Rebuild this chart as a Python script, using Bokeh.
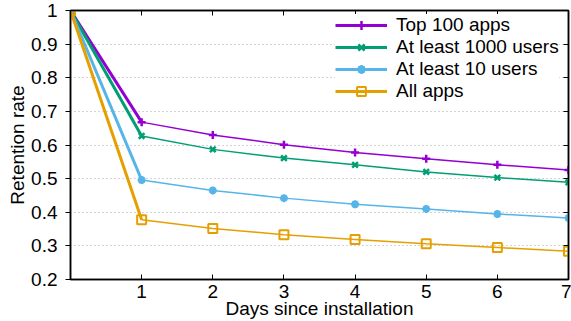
from bokeh.plotting import figure
from bokeh.models import Range1d, FixedTicker, LinearAxis, CustomJSTickFormatter, Legend, LegendItem
from bokeh.embed import file_html
from bokeh.resources import INLINE

days = [0, 1, 2, 3, 4, 5, 6, 7]
top100 = [1.0, 0.668, 0.630, 0.601, 0.578, 0.559, 0.541, 0.526]
least1000 = [1.0, 0.627, 0.587, 0.561, 0.541, 0.520, 0.503, 0.489]
least10 = [1.0, 0.496, 0.465, 0.442, 0.424, 0.410, 0.395, 0.383]
allapps = [1.0, 0.378, 0.352, 0.333, 0.319, 0.306, 0.295, 0.284]

series_names = ["Top 100 apps", "At least 1000 users", "At least 10 users", "All apps"]
series_values = [top100, least1000, least10, allapps]
colors = ["#9400D3", "#009E73", "#56B4E9", "#E69F00"]
markers = ["cross", "x", "asterisk", "square"]

x_ticks = [1, 2, 3, 4, 5, 6, 7]
y_ticks = [0.2, 0.3, 0.4, 0.5, 0.6, 0.7, 0.8, 0.9, 1.0]

FONT = "Liberation Sans"
FS = "19px"

p = figure(width=571, height=321, x_range=Range1d(0, 7), y_range=Range1d(0.2, 1.0),
           output_backend="svg", toolbar_location=None,
           min_border_left=70, min_border_right=3, min_border_top=10, min_border_bottom=41)
p.outline_line_color = "black"
p.outline_line_width = 1.5
p.background_fill_color = "white"
p.border_fill_color = "white"

xt = FixedTicker(ticks=x_ticks)
yt = FixedTicker(ticks=y_ticks)
fmt = CustomJSTickFormatter(code="return (Math.round(tick*10)/10).toString();")

xa = p.xaxis[0]
xa.ticker = xt
xa.axis_label = "Days since installation"
ya = p.yaxis[0]
ya.ticker = yt
ya.formatter = fmt
ya.axis_label = "Retention rate"

for ax in (xa, ya):
    ax.major_label_text_font = FONT
    ax.major_label_text_font_size = FS
    ax.major_label_text_color = "black"
    ax.axis_label_text_font = FONT
    ax.axis_label_text_font_size = FS
    ax.axis_label_text_font_style = "normal"
    ax.axis_label_text_color = "black"
    ax.axis_line_color = "black"
    ax.axis_line_width = 1.5
    ax.major_tick_line_color = "black"
    ax.minor_tick_in = 0
    ax.minor_tick_out = 0

xa.major_tick_in = 5
xa.major_tick_out = 0
xa.major_label_standoff = 5
xa.axis_label_standoff = -3
ya.major_tick_in = 0
ya.major_tick_out = 5
ya.major_label_standoff = 8
ya.axis_label_standoff = 0

blank = CustomJSTickFormatter(code="return '';")
top_ax = LinearAxis(ticker=xt, formatter=blank, major_label_text_font_size="0px",
                    major_label_standoff=0, major_tick_in=5, major_tick_out=0,
                    minor_tick_in=0, minor_tick_out=0, axis_line_width=1.5)
right_ax = LinearAxis(ticker=yt, formatter=blank, major_label_text_font_size="0px",
                      major_label_standoff=0, major_tick_in=5, major_tick_out=0,
                      minor_tick_in=0, minor_tick_out=0, axis_line_width=1.5)
p.add_layout(top_ax, "above")
p.add_layout(right_ax, "right")

p.xgrid.visible = False
p.ygrid.ticker = yt
p.ygrid.grid_line_color = "#a8a8a8"
p.ygrid.grid_line_dash = "1 3"
p.ygrid.grid_line_width = 1

items = []
for name, vals, c, m in zip(series_names, series_values, colors, markers):
    r_thick = p.line(days[:2], vals[:2], line_color=c, line_width=3)
    p.line(days[1:], vals[1:], line_color=c, line_width=1.5)
    if m == "square":
        r_m = p.scatter(days, vals, marker=m, size=9, line_color=c, fill_color=None, line_width=2)
    else:
        r_m = p.scatter(days, vals, marker=m, size=8, line_color=c, fill_color=c, line_width=2.5)
    items.append(LegendItem(label=name, renderers=[r_thick, r_m]))

legend = Legend(items=items, location=(265, 177), label_text_font=FONT, label_text_font_size=FS,
                label_text_color="black", glyph_width=52, glyph_height=22, label_height=22,
                label_standoff=9, spacing=0, padding=0, margin=0, border_line_color=None,
                background_fill_color="white", background_fill_alpha=1.0)
p.add_layout(legend)

open("out.html", "w").write(file_html(p, INLINE))
